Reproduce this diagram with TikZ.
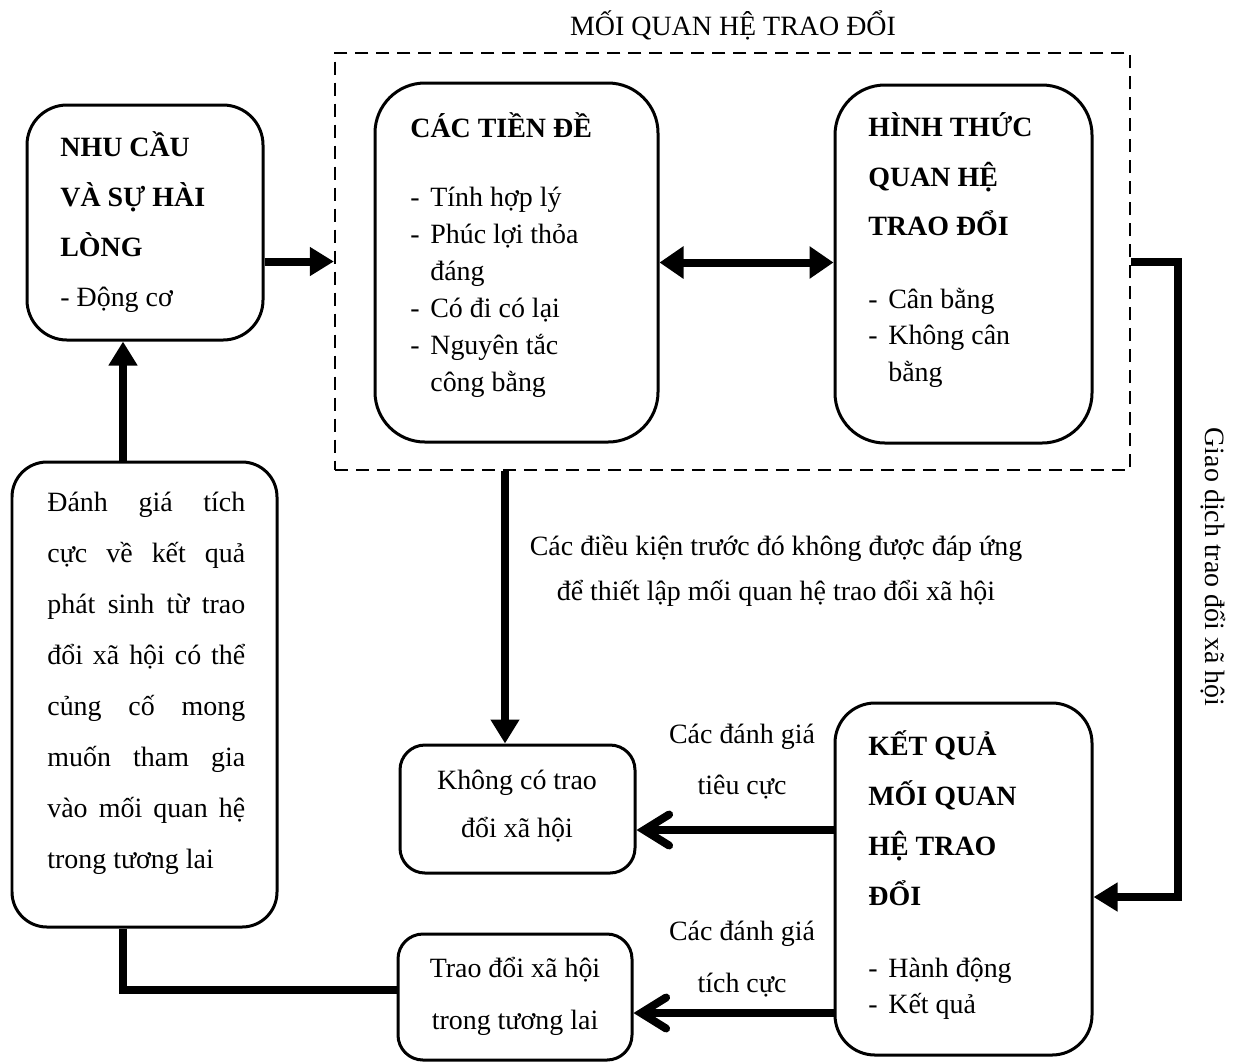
\documentclass[tikz,border=0pt]{standalone}
\usepackage{fontspec}
\setmainfont{Liberation Serif}
\usetikzlibrary{arrows.meta,calc,fit}

\newcommand{\itm}[1]{\makebox[0.4cm][l]{-}#1}
\newcommand{\ind}[1]{\hspace*{0.4cm}#1}

\begin{document}
\begin{tikzpicture}[x=0.02cm,y=-0.02cm,
  box/.style={draw,line width=0.06cm,inner sep=0},
  group/.style={draw,line width=0.045cm,dash pattern=on 0.26cm off 0.16cm,inner sep=0},
  txt/.style={inner sep=0,anchor=west,align=left,font=\fontsize{15.9}{#1}\selectfont},
  ctxt/.style={inner sep=0,anchor=center,align=center,font=\fontsize{15.9}{#1}\selectfont},
  fat/.style={line width=0.16cm},
  tri/.style={-{Triangle[length=0.48cm,width=0.55cm]}},
  barb/.style={-{Straight Barb[length=0.5cm,width=0.62cm,line cap=round]}},
]
\useasboundingbox (0,0) rectangle (1240,1063);

% group frame and its title
\node[group,fit={(335,53) (1130,470)}] (grp) {};
\node[ctxt=20pt] (grptitle) at (733,25) {MỐI QUAN HỆ TRAO ĐỔI};

% boxes
\node[box,rounded corners=0.8cm,fit={(27,105) (263,340)}] (need) {};
\node[box,rounded corners=1.0cm,fit={(375,83) (658,442)}] (pre) {};
\node[box,rounded corners=1.0cm,fit={(835,85) (1092,443)}] (form) {};
\node[box,rounded corners=0.8cm,fit={(835,703) (1092,1055)}] (res) {};
\node[box,rounded corners=0.5cm,fit={(400,745) (635,873)}] (none) {};
\node[box,rounded corners=0.5cm,fit={(398,934) (632,1060)}] (fut) {};
\node[box,rounded corners=0.7cm,fit={(12,462) (277,927)}] (eval) {};

% box texts
\node[txt=28.45pt] (needtxt) at (60,222) {\textbf{NHU CẦU}\\\textbf{VÀ SỰ HÀI}\\\textbf{LÒNG}\\- Động cơ};
\node[txt=21pt] (pretxt) at (410,255) {\textbf{CÁC TIỀN ĐỀ}\\[18.3pt]\itm{Tính hợp lý}\\\itm{Phúc lợi thỏa}\\\ind{đáng}\\\itm{Có đi có lại}\\\itm{Nguyên tắc}\\\ind{công bằng}};
\node[txt=21pt] (formtxt) at (868,250) {\textbf{HÌNH THỨC}\\[7.4pt]\textbf{QUAN HỆ}\\[7.4pt]\textbf{TRAO ĐỔI}\\[20pt]\itm{Cân bằng}\\\itm{Không cân}\\\ind{bằng}};
\node[txt=20.5pt] (restxt) at (868,875) {\textbf{KẾT QUẢ}\\[8pt]\textbf{MỐI QUAN}\\[8pt]\textbf{HỆ TRAO}\\[8pt]\textbf{ĐỔI}\\[20.5pt]\itm{Hành động}\\\itm{Kết quả}};
\node[ctxt=27.3pt] (nonetxt) at (517,806) {Không có trao\\đổi xã hội};
\node[ctxt=29.6pt] (futtxt) at (515,996) {Trao đổi xã hội\\trong tương lai};
\node[txt=29pt] (evaltxt) at (47,683) {%
  \makebox[3.96cm][s]{Đánh giá tích}\\
  \makebox[3.96cm][s]{cực về kết quả}\\
  \makebox[3.96cm][s]{phát sinh từ trao}\\
  \makebox[3.96cm][s]{đổi xã hội có thể}\\
  \makebox[3.96cm][s]{củng cố mong}\\
  \makebox[3.96cm][s]{muốn tham gia}\\
  \makebox[3.96cm][s]{vào mối quan hệ}\\
  trong tương lai};

% connector labels
\node[ctxt=25.6pt] (condlbl) at (776,571) {Các điều kiện trước đó không được đáp ứng\\để thiết lập mối quan hệ trao đổi xã hội};
\node[ctxt=29pt] (neglbl) at (742,762) {Các đánh giá\\tiêu cực};
\node[ctxt=29.6pt] (poslbl) at (742,959) {Các đánh giá\\tích cực};
\node[ctxt=20pt,rotate=-90] (translbl) at (1213,567) {Giao dịch trao đổi xã hội};

% helper levels for connectors
\coordinate (xa) at (505,0);
\coordinate (xb) at (123,0);
\coordinate (xr) at (1178,0);
\coordinate (yn) at (0,830);
\coordinate (yp) at (0,1013);
\coordinate (yk) at (0,897);
\coordinate (yf) at (0,990);

% connectors
\draw[fat,tri] (need.east |- grp.west) -- (grp.west);
\draw[fat,{Triangle[length=0.48cm,width=0.62cm]}-{Triangle[length=0.48cm,width=0.62cm]}] (pre.east) -- (pre.east -| form.west);
\draw[fat,tri] (grp.east) -- (grp.east -| xr) -- (xr |- yk) -- (res.east |- yk);
\draw[fat,tri] (grp.south -| xa) -- (none.north -| xa);
\draw[fat,barb] (res.west |- yn) -- (none.east |- yn);
\draw[fat,barb] (res.west |- yp) -- (fut.east |- yp);
\draw[fat,tri] (eval.north -| xb) -- (need.south -| xb);
\draw[fat] (eval.south -| xb) |- (fut.west |- yf);
\end{tikzpicture}
\end{document}
